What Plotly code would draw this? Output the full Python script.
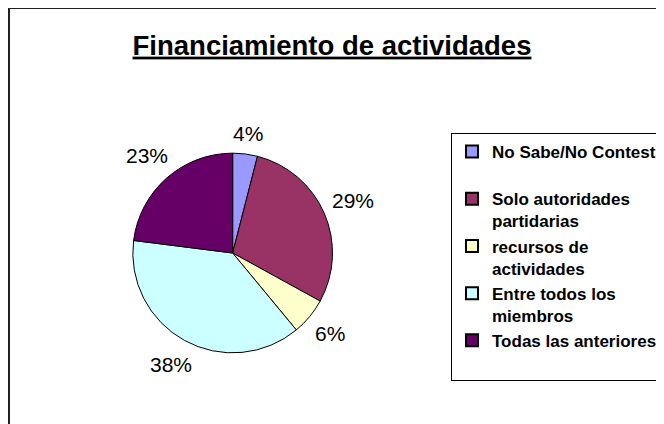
import math
import plotly.graph_objects as go

categories = ["No Sabe/No Contesta<br> ", "Solo autoridades<br>partidarias", "recursos de<br>actividades",
              "Entre todos los<br>miembros", "Todas las anteriores<br> "]
values = [4, 29, 6, 38, 23]
colors = ["#9999FF", "#993366", "#FFFFCC", "#CCFFFF", "#660066"]
title_text = "Financiamiento de actividades"

W, H = 664, 424
OFF = 8  # page body margin offset
cx, cy, R = 233 - OFF, 253 - OFF, 100  # pie centre / radius in figure pixels

fig = go.Figure(go.Pie(
    labels=[f"<b>{c}</b>" for c in categories],
    values=values,
    marker=dict(colors=colors, line=dict(color="black", width=1)),
    sort=False, direction="clockwise", rotation=0,
    textinfo="none", hoverinfo="label+percent",
    domain=dict(x=[(cx - R) / W, (cx + R) / W], y=[1 - (cy + R) / H, 1 - (cy - R) / H]),
))

# percentage labels outside the pie, positioned from the data
total = sum(values)
cum = 0
annotations = []
for v in values:
    mid = (cum + v / 2) / total * 2 * math.pi
    cum += v
    pct = f"{round(v / total * 100)}%"
    dx, dy = math.sin(mid), -math.cos(mid)
    hw = 0.5 * (11.7 * (len(pct) - 1) + 18.7)
    hh = 12
    d = R + 7 + abs(dx) * hw + abs(dy) * hh
    px, py = cx + dx * d, cy + dy * d
    annotations.append(dict(x=px / W, y=1 - py / H, xref="paper", yref="paper",
                            text=pct, showarrow=False, xanchor="center", yanchor="middle",
                            font=dict(family="Liberation Sans, Arial", size=21, color="black")))

fig.update_layout(
    width=W, height=H,
    margin=dict(l=0, r=0, t=0, b=0),
    paper_bgcolor="white", plot_bgcolor="white",
    title=dict(text=f"<b><u>{title_text}</u></b>", x=(332 - OFF) / W, xanchor="center",
               y=1 - (45 - OFF) / H, yanchor="middle",
               font=dict(family="Liberation Sans, Arial", size=27.5, color="black")),
    legend=dict(x=(452 - OFF) / W, y=1 - (133 - OFF) / H, xanchor="left", yanchor="top",
                bordercolor="black", borderwidth=1, bgcolor="white",
                font=dict(family="Liberation Sans, Arial", size=17, color="black"),
                valign="top", itemsizing="constant"),
    annotations=annotations,
    shapes=[dict(type="rect", xref="paper", yref="paper",
                 x0=(9 - OFF) / W, y0=1 - (8 - OFF) / H, x1=1.2, y1=-0.2,
                 line=dict(color="#222222", width=2), fillcolor="rgba(0,0,0,0)", layer="below")],
)

fig.write_html("out.html")
